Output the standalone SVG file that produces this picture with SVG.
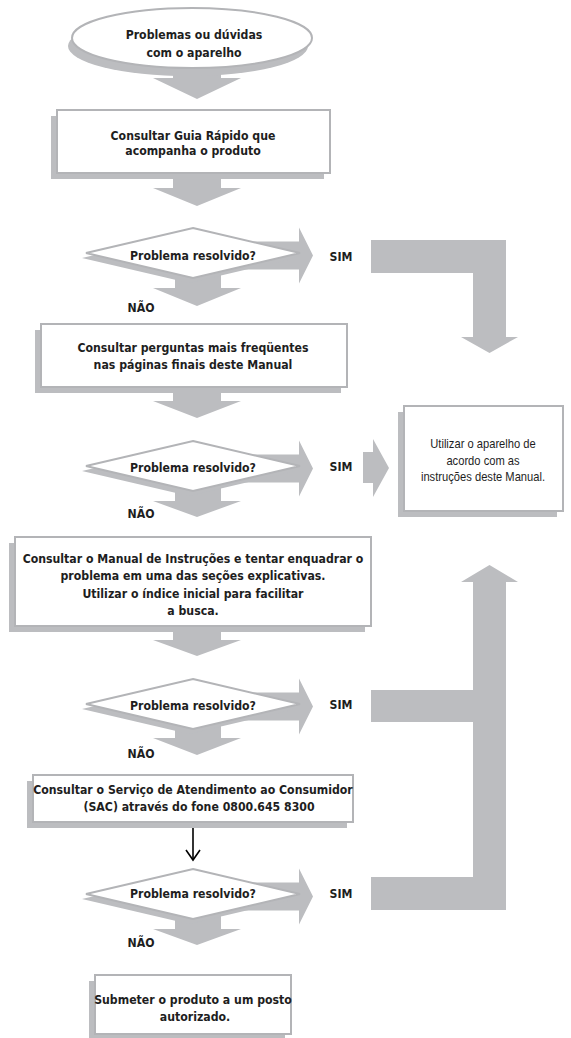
<svg xmlns="http://www.w3.org/2000/svg" width="571" height="1038" viewBox="0 0 571 1038">
<style>
.bg{fill:#ffffff}
.arr{fill:#bcbdc0}
.sh{fill:#bcbdc0}
.node{fill:#ffffff;stroke:#b3b4b7;stroke-width:2}
.t{font-family:"DejaVu Sans Condensed","Liberation Sans",sans-serif;font-weight:bold;font-size:12.2px;fill:#1e1e1e;text-anchor:middle}
.tn{font-family:"Liberation Sans",Arial,sans-serif;font-size:13px;fill:#1e1e1e;text-anchor:middle}
.thin{stroke:#000;stroke-width:1.6;fill:none}
</style>
<rect class="bg" x="0" y="0" width="571" height="1038"/>
<g id="connectors">
<path class="arr" d="M173,60H221V78H241L197,99L153,78H173Z"/>
<path class="arr" d="M173,175H221V188H241L197,206L153,188H173Z"/>
<path class="arr" d="M173,388H221V401H241L197,418L153,401H173Z"/>
<path class="arr" d="M173,628H221V640H241L197,656L153,640H173Z"/>
<path class="arr" d="M175,253H221V288H241L197,306L153,288H175Z"/>
<path class="arr" d="M175,466H221V501H241L197,517L153,501H175Z"/>
<path class="arr" d="M175,704H221V738H241L197,755L153,738H175Z"/>
<path class="arr" d="M175,894H221V929H241L197,945L153,929H175Z"/>
<path class="arr" d="M230,241.5H299V227.5L313,255.5L299,283.5V269.5H230Z"/>
<path class="arr" d="M230,454.5H299V440.5L313,468.5L299,496.5V482.5H230Z"/>
<path class="arr" d="M230,692.5H299V678.5L313,706.5L299,734.5V720.5H230Z"/>
<path class="arr" d="M230,882.5H299V868.5L313,896.5L299,924.5V910.5H230Z"/>
<path class="arr" d="M371,240H506V337H518L489.5,353L461,337H473V273H371Z"/>
<path class="arr" d="M371,690H473V582H461L489.5,565L518,582H506V910H371V877H473V722H371Z"/>
<path class="arr" d="M363,452H373V439L389,468L373,497V483H363Z"/>
<line class="thin" x1="193" y1="828" x2="193" y2="860"/>
<polyline class="thin" points="186,850 193,860 200,850"/>
</g>
<g id="start">
<ellipse class="sh" cx="188" cy="46" rx="120" ry="30"/>
<ellipse class="node" cx="192" cy="38" rx="120" ry="30"/>
<text class="t" x="194" y="38.5">Problemas ou dúvidas</text>
<text class="t" x="194" y="56.5">com o aparelho</text>
</g>
<g id="box1">
<rect class="sh" x="51" y="116" width="273" height="63"/>
<rect class="node" x="57" y="110" width="273" height="63"/>
<text class="t" x="193" y="139.5">Consultar Guia Rápido que</text>
<text class="t" x="193" y="154.5">acompanha o produto</text>
</g>
<g id="dec1">
<polygon class="sh" points="189,233 296,258 189,283 82,258"/>
<polygon class="node" points="193,228 300,253 193,278 86,253"/>
<text class="t" x="193" y="259.5">Problema resolvido?</text>
</g>
<g id="box2">
<rect class="sh" x="35" y="330" width="306" height="63"/>
<rect class="node" x="41" y="324" width="306" height="63"/>
<text class="t" x="193" y="351.5">Consultar perguntas mais freqüentes</text>
<text class="t" x="193" y="368.5">nas páginas finais deste Manual</text>
</g>
<g id="dec2">
<polygon class="sh" points="189,446 296,471 189,496 82,471"/>
<polygon class="node" points="193,441 300,466 193,491 86,466"/>
<text class="t" x="193" y="472">Problema resolvido?</text>
</g>
<g id="box3">
<rect class="sh" x="9" y="543" width="356" height="89"/>
<rect class="node" x="15" y="537" width="356" height="89"/>
<text class="t" x="193" y="562.5">Consultar o Manual de Instruções e tentar enquadrar o</text>
<text class="t" x="193" y="579.5">problema em uma das seções explicativas.</text>
<text class="t" x="193" y="597.5">Utilizar o índice inicial para facilitar</text>
<text class="t" x="193" y="614.5">a busca.</text>
</g>
<g id="dec3">
<polygon class="sh" points="189,684 296,709 189,734 82,709"/>
<polygon class="node" points="193,679 300,704 193,729 86,704"/>
<text class="t" x="193" y="709.5">Problema resolvido?</text>
</g>
<g id="box4">
<rect class="sh" x="27" y="781" width="320" height="47"/>
<rect class="node" x="33" y="775" width="320" height="47"/>
<text class="t" x="193" y="793.5">Consultar o Serviço de Atendimento ao Consumidor</text>
<text class="t" x="199" y="810.5">(SAC) através do fone 0800.645 8300</text>
</g>
<g id="dec4">
<polygon class="sh" points="189,874 296,899 189,924 82,899"/>
<polygon class="node" points="193,869 300,894 193,919 86,894"/>
<text class="t" x="193" y="898">Problema resolvido?</text>
</g>
<g id="box5">
<rect class="sh" x="89" y="981" width="196" height="59"/>
<rect class="node" x="95" y="975" width="196" height="59"/>
<text class="t" x="193" y="1003.5">Submeter o produto a um posto</text>
<text class="t" x="195" y="1020.5">autorizado.</text>
</g>
<g id="use">
<rect class="sh" x="398" y="412" width="159" height="105"/>
<rect class="node" x="404" y="406" width="159" height="105"/>
<g transform="translate(483,0) scale(0.86,1)">
<text class="tn" x="0" y="448.5">Utilizar o aparelho de</text>
<text class="tn" x="0" y="465">acordo com as</text>
<text class="tn" x="0" y="481.5">instruções deste Manual.</text>
</g>
</g>
<g id="labels">
<text class="t" x="341" y="260.5">SIM</text>
<text class="t" x="341" y="470.5">SIM</text>
<text class="t" x="341" y="708.5">SIM</text>
<text class="t" x="341" y="897.5">SIM</text>
<text class="t" x="141" y="311.5">NÃO</text>
<text class="t" x="141" y="517.5">NÃO</text>
<text class="t" x="141" y="757.5">NÃO</text>
<text class="t" x="141" y="946.5">NÃO</text>
</g>
</svg>
